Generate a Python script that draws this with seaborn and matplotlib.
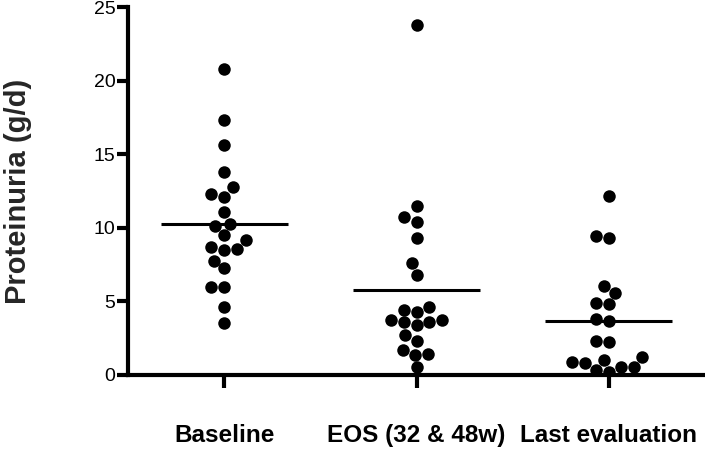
import numpy as np
import pandas as pd
import seaborn as sns
import matplotlib.pyplot as plt

# Proteinuria values (g/d)
groups = ["Baseline", "EOS (32 & 48w)", "Last evaluation"]

baseline = [20.8, 17.3, 15.6, 13.8, 12.75, 12.3, 12.1, 11.05, 10.26, 10.1,
            9.5, 9.2, 8.7, 8.55, 8.5, 7.75, 7.25, 6.0, 5.95, 4.65, 3.5]
eos = [23.8, 11.5, 10.7, 10.4, 9.3, 7.6, 6.8, 4.6, 4.44, 4.3, 3.76,
       3.76, 3.62, 3.58, 3.4, 2.72, 2.33, 1.72, 1.43, 1.36, 0.52]
last_eval = [12.18, 9.46, 9.29, 6.03, 5.57, 4.89, 4.82, 3.8, 3.65, 2.33,
             2.22, 1.2, 1.02, 0.9, 0.79, 0.52, 0.52, 0.34, 0.23]

y_ticks = [0, 5, 10, 15, 20, 25]

df = pd.DataFrame({
    "group": [groups[0]] * len(baseline) + [groups[1]] * len(eos) + [groups[2]] * len(last_eval),
    "value": baseline + eos + last_eval,
})

sns.set_style("ticks")
plt.rcParams["font.family"] = ["Liberation Sans", "DejaVu Sans"]

fig = plt.figure(figsize=(7.05, 4.5), dpi=100)
ax = fig.add_axes([0.1816, 0.1667, 0.8184, 0.8177])

sns.swarmplot(data=df, x="group", y="value", order=groups, color="black",
              size=9, ax=ax)

# mean lines
means = df.groupby("group")["value"].mean().reindex(groups)
for i, m in enumerate(means):
    ax.hlines(m, i - 0.33, i + 0.33, color="black", linewidth=2.2, zorder=3)

ax.set_xlim(-0.5, 2.5)
ax.set_ylim(0, 25)
ax.set_yticks(y_ticks)
ax.set_yticklabels([str(t) for t in y_ticks], fontsize=14)
ax.set_xticks(range(len(groups)))
ax.set_xticklabels(groups, fontsize=17.5, fontweight="bold")

ax.set_xlabel("")
ax.set_ylabel("Proteinuria (g/d)", fontsize=21, fontweight="bold")
ax.yaxis.set_label_coords(-0.166, 0.5)

sns.despine(ax=ax)
for side in ["left", "bottom"]:
    ax.spines[side].set_linewidth(3)
    ax.spines[side].set_color("black")
ax.tick_params(axis="y", length=8, width=3, pad=1, colors="black")
ax.tick_params(axis="x", length=9, width=3, pad=26, colors="black")

fig.savefig("out.png", dpi=100)
